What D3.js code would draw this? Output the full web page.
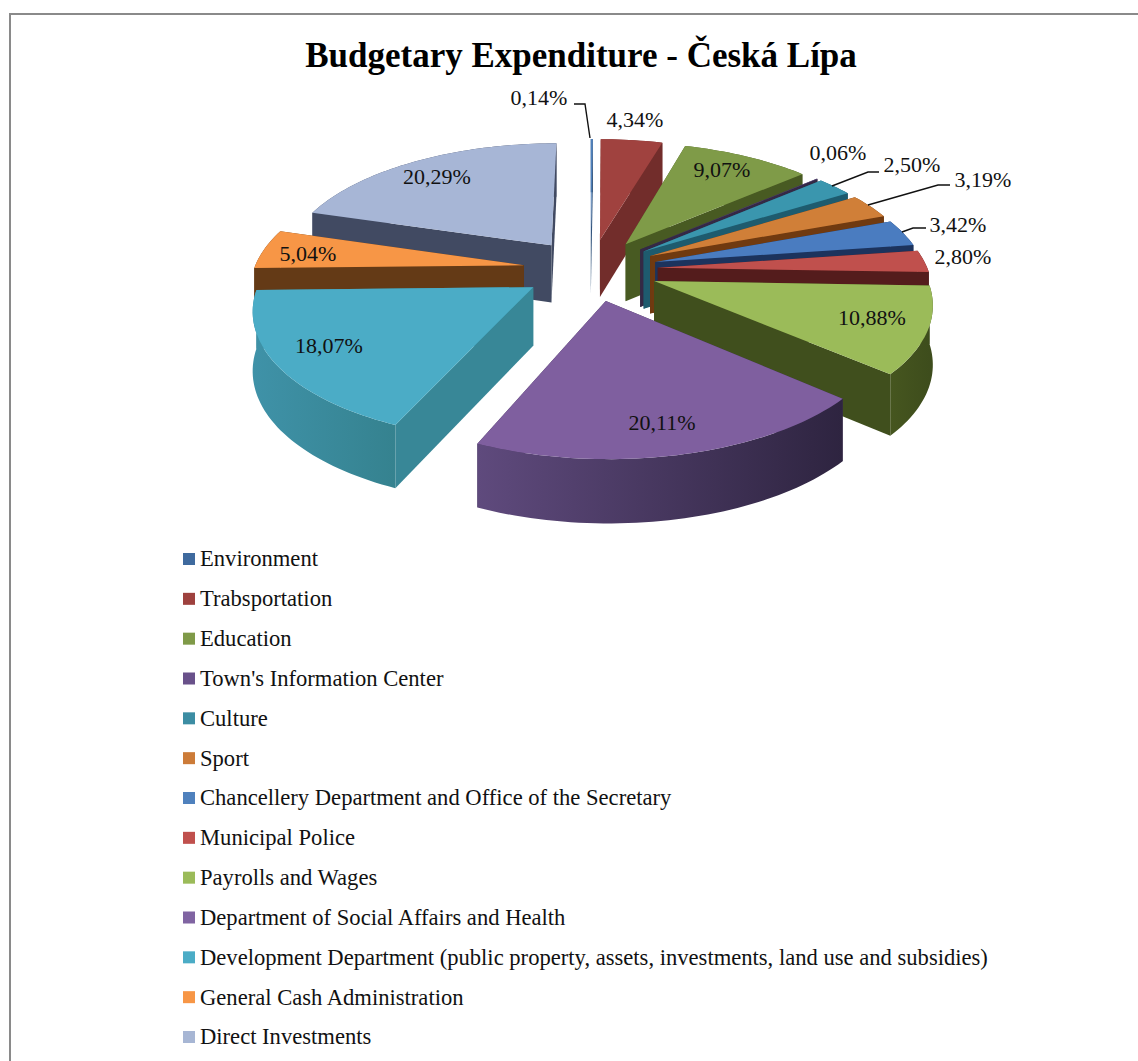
<!DOCTYPE html>
<html><head><meta charset="utf-8">
<script src="https://cdn.jsdelivr.net/npm/d3@7"></script>
<style>html,body{margin:0;padding:0;background:#fff}svg{display:block}text{font-family:"Liberation Serif",serif;fill:#111}</style>
</head><body><svg id="c" width="1138" height="1061"></svg>
<script>
const categories=["Environment","Trabsportation","Education","Town's Information Center","Culture","Sport","Chancellery Department and Office of the Secretary","Municipal Police","Payrolls and Wages","Department of Social Affairs and Health","Development Department (public property, assets, investments, land use and subsidies)","General Cash Administration","Direct Investments"];
const values=[0.14,4.34,9.07,0.06,2.50,3.19,3.42,2.80,10.88,20.11,18.07,5.04,20.29];
const topColors=["#4f81bd","#a0423f","#7f9b48","#5f4a85","#3a96ae","#d07f38","#4a7cc0","#c0504d","#9bbb59","#7f5f9f","#4bacc6","#f79646","#a7b6d6"];
const wallLight=["#3b6391","#7f3330","#51652a","#3f3151","#23667c","#7d4213","#1f3a68","#5f2020","#46561f","#5f4a7d","#3f92a8","#6f4119","#47526c"];
const wallDark=["#2f4f75","#6d2b29","#44551f","#2f2540","#1c5668","#6a370f","#1a3058","#4f1a1a","#3d4c1c","#2e2440","#35828f","#5f3714","#3e475e"];
const title="Budgetary Expenditure - Česká Lípa";
const fmt=v=>v.toFixed(2).replace(".",",")+"%";

// label anchors: [centre x, centre y], optional leader elbow and end
const labelAt=[[539,98],[635,120],[722,170],[838,153],[912,165],[983,180],[958,225],[963,257],[872,318],[662,423],[329,346],[308,254],[437,177]];
const leaders={0:[[574,104],[585,104],[590,138]],4:[[879,172],[868,172],[832,186]],5:[[950,185],[938,185],[868,205]],6:[[926,228],[913,228],[902,232]]};

const svg=d3.select("#c");
const CX=590.5,CY=269.5,RX=270,RY=124,K=0.15,DEPTH=58,EXPLODE=0.25;
const scaleX=d3.scaleLinear().domain([0,1]).range([0,RX]);
const scaleY=d3.scaleLinear().domain([0,1]).range([0,-RY]);
const project=(x,y,z=0)=>{const s=1/(1+K*y);return [CX+scaleX(x)*s,CY+scaleY(y)*s+z*DEPTH*Math.sqrt(s)];};

const arcs=d3.pie().sort(null).value(d=>d).startAngle(0).endAngle(2*Math.PI)(values);
const line=d3.line();
const defs=svg.append("defs");

// the frame shows only on the top and left: its other sides lie past the photographed area
svg.append("rect").attr("x",10).attr("y",14).attr("width",1200).attr("height",1100).attr("fill","#fff").attr("stroke","#8a8a8a").attr("stroke-width",2);
svg.append("text").attr("x",581).attr("y",67).attr("text-anchor","middle").attr("font-size",35).attr("font-weight","bold").style("fill","#000").text(title);

const slices=arcs.map((a,i)=>{
  const mid=(a.startAngle+a.endAngle)/2;
  const ox=EXPLODE*Math.sin(mid),oy=EXPLODE*Math.cos(mid);
  const P=(t,r,z)=>project(ox+r*Math.sin(t),oy+r*Math.cos(t),z);
  return {a,i,mid,P,oy};
}).sort((p,q)=>Math.cos(q.mid)-Math.cos(p.mid));

const g=svg.append("g");
slices.forEach(({a,i,mid,P})=>{
  const n=Math.max(2,Math.ceil((a.endAngle-a.startAngle)*40));
  const ts=d3.range(n+1).map(k=>a.startAngle+(a.endAngle-a.startAngle)*k/n);
  const gid="w"+i;
  const gr=defs.append("linearGradient").attr("id",gid);
  gr.append("stop").attr("offset",0).attr("stop-color",wallLight[i]);
  gr.append("stop").attr("offset",1).attr("stop-color",wallDark[i]);
  const sg=g.append("g");
  const rad=t=>line([P(t,0,0),P(t,1,0),P(t,1,1),P(t,0,1)])+"Z";
  const radFill=d3.interpolateRgb(wallLight[i],wallDark[i])(0.7);
  const faces=[
    {d:rad(a.startAngle),y:Math.cos(a.startAngle)*.5,fill:radFill},
    {d:rad(a.endAngle),y:Math.cos(a.endAngle)*.5,fill:radFill},
    {d:line(ts.map(t=>P(t,1,0)).concat(ts.slice().reverse().map(t=>P(t,1,1))))+"Z",y:Math.cos(mid),fill:`url(#${gid})`}
  ].sort((p,q)=>q.y-p.y);
  faces.forEach(f=>sg.append("path").attr("d",f.d).attr("fill",f.fill));
  sg.append("path").attr("d",line([P(0,0,0)].concat(ts.map(t=>P(t,1,0))))+"Z").attr("fill",topColors[i]);
});

const lab=svg.append("g").attr("font-size",22);
values.forEach((v,i)=>{
  lab.append("text").attr("x",labelAt[i][0]).attr("y",labelAt[i][1]).attr("dy","0.33em").attr("text-anchor","middle").text(fmt(v));
});
Object.values(leaders).forEach(p=>svg.append("path").attr("d",line(p)).attr("fill","none").attr("stroke","#111").attr("stroke-width",1.4));

const legendY=d3.scalePoint().domain(categories).range([559,1037]);
const legend=svg.append("g").selectAll("g").data(categories).join("g").attr("transform",d=>`translate(183,${legendY(d)})`);
const legendSwatch=["#3f6a9e","#9e413e","#7f9a48","#69518a","#3c8da3","#cc7b38","#4f81bd","#c0504d","#9bbb59","#8064a2","#4bacc6","#f79646","#a7b6d4"];
legend.append("rect").attr("x",0).attr("y",-6).attr("width",12).attr("height",12).attr("fill",(d,i)=>legendSwatch[i]);
legend.append("text").attr("x",17).attr("dy","0.33em").attr("font-size",22.6).text(d=>d);
</script></body></html>
